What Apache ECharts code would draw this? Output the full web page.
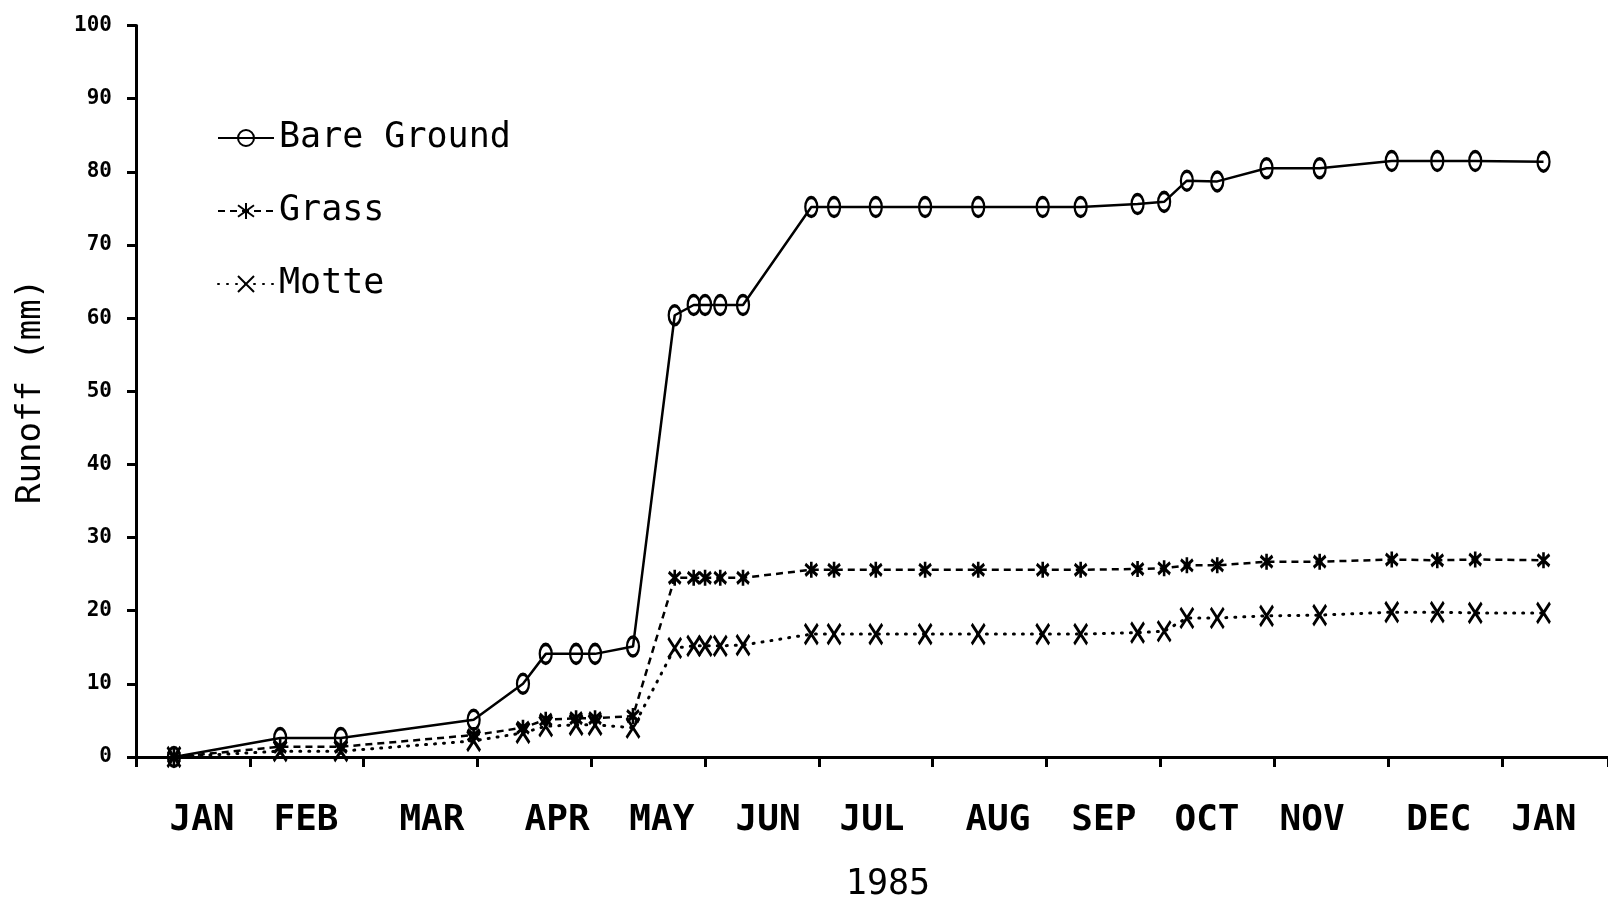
<!DOCTYPE html>
<html>
<head>
<meta charset="utf-8">
<script src="https://cdn.jsdelivr.net/npm/echarts@6/dist/echarts.min.js"></script>
<style>
html,body{margin:0;padding:0;background:#fff;}
#chart{width:1608px;height:909px;}
</style>
</head>
<body>
<div id="chart"></div>
<script>
// Day of year (0 = Jan 1, 1985) of each measurement
const days = [0, 28, 44, 79, 92, 98, 106, 111, 121, 132, 137, 140, 144, 150, 168, 174, 185, 198, 212, 229, 239, 254, 261, 267, 275, 288, 302, 321, 333, 343, 361];
// Cumulative runoff (mm)
const bareGround = [0, 2.6, 2.6, 5.1, 10.0, 14.1, 14.1, 14.1, 15.1, 60.4, 61.8, 61.8, 61.8, 61.8, 75.2, 75.2, 75.2, 75.2, 75.2, 75.2, 75.2, 75.6, 75.9, 78.8, 78.7, 80.5, 80.5, 81.5, 81.5, 81.5, 81.4];
const grass = [0, 1.4, 1.4, 3.0, 4.0, 5.1, 5.3, 5.3, 5.6, 24.5, 24.5, 24.5, 24.5, 24.5, 25.6, 25.6, 25.6, 25.6, 25.6, 25.6, 25.6, 25.7, 25.8, 26.2, 26.2, 26.7, 26.7, 27.0, 26.9, 27.0, 26.9];
const motte = [0, 0.8, 0.8, 2.2, 3.3, 4.2, 4.4, 4.4, 4.0, 14.9, 15.2, 15.2, 15.2, 15.3, 16.8, 16.8, 16.8, 16.8, 16.8, 16.8, 16.8, 17.0, 17.2, 19.0, 19.0, 19.3, 19.4, 19.8, 19.8, 19.7, 19.7];
// Month tick labels and the day values where they are written
const monthNames = ['JAN', 'FEB', 'MAR', 'APR', 'MAY', 'JUN', 'JUL', 'AUG', 'SEP', 'OCT', 'NOV', 'DEC', 'JAN'];
const monthLabelDays = [7.4, 34.8, 68.0, 101.0, 128.6, 156.6, 184.0, 217.2, 245.1, 272.3, 300.0, 333.4, 361.1];
const seriesNames = ['Bare Ground', 'Grass', 'Motte'];
const xAxisName = '1985';
const yAxisName = 'Runoff (mm)';

const FONT = 'DejaVu Sans Mono';
const pair = (ys) => days.map((d, i) => [d, ys[i]]);

const chart = echarts.init(document.getElementById('chart'), null, {renderer: 'canvas'});
const common = {
  type: 'line',
  showAllSymbol: true,
  animation: false,
  itemStyle: {color: 'rgba(0,0,0,0)', borderColor: '#000', borderWidth: 2.8},
  emphasis: {disabled: true}
};
chart.setOption({
  backgroundColor: '#fff',
  animation: false,
  grid: {left: 136, right: 0, top: 25.6, bottom: 152, containLabel: false},
  legend: {
    orient: 'vertical',
    left: 212,
    top: 113,
    itemWidth: 56,
    itemHeight: 20,
    itemGap: 33,
    textStyle: {fontFamily: FONT, fontSize: 35, color: '#000', lineHeight: 40},
    data: seriesNames
  },
  xAxis: {
    type: 'value',
    min: -10,
    max: 378,
    interval: 30,
    name: xAxisName,
    nameLocation: 'middle',
    nameGap: 110,
    nameTextStyle: {fontFamily: FONT, fontSize: 35, color: '#000', padding: [0, 0, 0, 32]},
    axisLine: {show: true, onZero: false, lineStyle: {color: '#000', width: 3}},
    axisTick: {show: true, inside: false, length: 10, lineStyle: {color: '#000', width: 3}},
    axisLabel: {
      show: true,
      customValues: monthLabelDays,
      margin: 46,
      fontFamily: FONT,
      fontSize: 36,
      fontWeight: 'bold',
      color: '#000',
      formatter: function (v) {
        let best = -1, bd = 1e9;
        monthLabelDays.forEach((d, i) => { const dd = Math.abs(d - v); if (dd < bd) { bd = dd; best = i; } });
        return bd < 0.5 ? monthNames[best] : '';
      }
    },
    splitLine: {show: false}
  },
  yAxis: {
    type: 'value',
    min: 0,
    max: 100,
    interval: 10,
    name: yAxisName,
    nameLocation: 'middle',
    nameGap: 88,
    nameRotate: 90,
    nameTextStyle: {fontFamily: FONT, fontSize: 34, color: '#000'},
    axisLine: {show: true, onZero: false, lineStyle: {color: '#000', width: 3}},
    axisTick: {show: true, inside: false, length: 9, lineStyle: {color: '#000', width: 3}},
    axisLabel: {margin: 24, fontFamily: FONT, fontSize: 21, fontWeight: 'bold', color: '#000'},
    splitLine: {show: false}
  },
  series: [
    Object.assign({}, common, {
      name: seriesNames[0],
      data: pair(bareGround),
      symbol: 'circle',
      symbolSize: [12, 19],
      lineStyle: {color: '#000', width: 2.5, type: 'solid'}
    }),
    Object.assign({}, common, {
      name: seriesNames[1],
      data: pair(grass),
      symbol: 'path://M5,0 L5,14 M0,2 L10,12 M10,2 L0,12',
      symbolSize: [12, 16],
      itemStyle: {color: 'rgba(0,0,0,0)', borderColor: '#000', borderWidth: 3},
      lineStyle: {color: '#000', width: 2.5, type: [7, 5]}
    }),
    Object.assign({}, common, {
      name: seriesNames[2],
      data: pair(motte),
      symbol: 'path://M0,0 L10,16 M10,0 L0,16',
      symbolSize: [13, 20],
      itemStyle: {color: 'rgba(0,0,0,0)', borderColor: '#000', borderWidth: 3},
      lineStyle: {color: '#000', width: 3, type: [1, 8], cap: 'round'}
    })
  ]
});
</script>
</body>
</html>
